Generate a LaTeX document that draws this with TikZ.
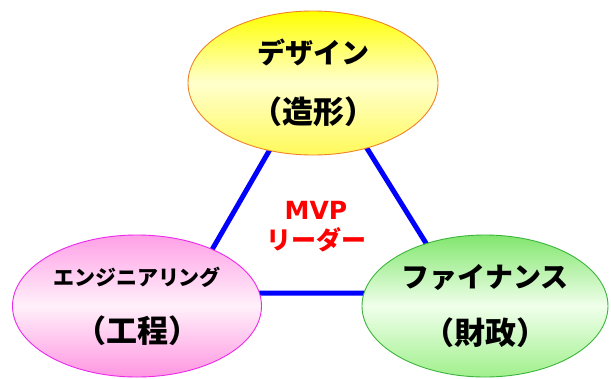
\documentclass[tikz,border=0pt]{standalone}
\usepackage{fontspec}
\usetikzlibrary{shapes.geometric}
\newfontfamily\jp{Noto Sans CJK JP}
\newfontfamily\lat{DejaVu Sans}
\definecolor{edgeblue}{RGB}{0,0,255}
\definecolor{leadred}{RGB}{255,0,0}
\definecolor{yedge}{RGB}{240,130,40}
\definecolor{ytop}{RGB}{255,255,0}
\definecolor{ymid}{RGB}{255,255,205}
\definecolor{ybot}{RGB}{255,250,90}
\definecolor{pedge}{RGB}{235,40,235}
\definecolor{ptop}{RGB}{255,160,230}
\definecolor{pmid}{RGB}{255,240,250}
\definecolor{pbot}{RGB}{255,150,225}
\definecolor{gedge}{RGB}{60,180,60}
\definecolor{gtop}{RGB}{130,230,110}
\definecolor{gmid}{RGB}{240,255,235}
\definecolor{gbot}{RGB}{160,240,140}
\begin{document}
\begin{tikzpicture}[x=1pt,y=-1pt,
  bubble/.style={ellipse, draw, line width=0.9pt, inner sep=0pt, align=center,
    font=\jp\bfseries\fontsize{28}{60}\selectfont},
  edgeline/.style={draw=edgeblue, line width=5pt},
  leader/.style={align=center, text=leadred, font=\jp\bfseries\fontsize{25}{30}\selectfont}]
\useasboundingbox (0,0) rectangle (611,378);
\coordinate (A) at (317,68);
\coordinate (B) at (187,293);
\coordinate (C) at (457,293);
\draw[edgeline] (A) -- (B) -- (C) -- cycle;
\node[bubble, draw=yedge, top color=ytop, bottom color=ybot, middle color=ymid,
  minimum width=250, minimum height=144] (design) at (313,83)
  {デザイン\\{\fontsize{31}{60}\selectfont （造形）}};
\node[bubble, draw=pedge, top color=ptop, bottom color=pbot, middle color=pmid,
  minimum width=249, minimum height=142, font=\jp\bfseries\fontsize{28}{57}\selectfont] (eng) at (137,306)
  {{\fontsize{21}{57}\selectfont エンジニアリング}\\{\fontsize{31}{57}\selectfont （工程）}};
\node[bubble, draw=gedge, top color=gtop, bottom color=gbot, middle color=gmid,
  minimum width=246, minimum height=142, font=\jp\bfseries\fontsize{28}{57}\selectfont] (fin) at (485,306)
  {ファイナンス\\{\fontsize{31}{57}\selectfont （財政）}};
\node[leader] (mvp) at (316,227) {{\lat\bfseries MVP}\\リーダー};
\end{tikzpicture}
\end{document}
